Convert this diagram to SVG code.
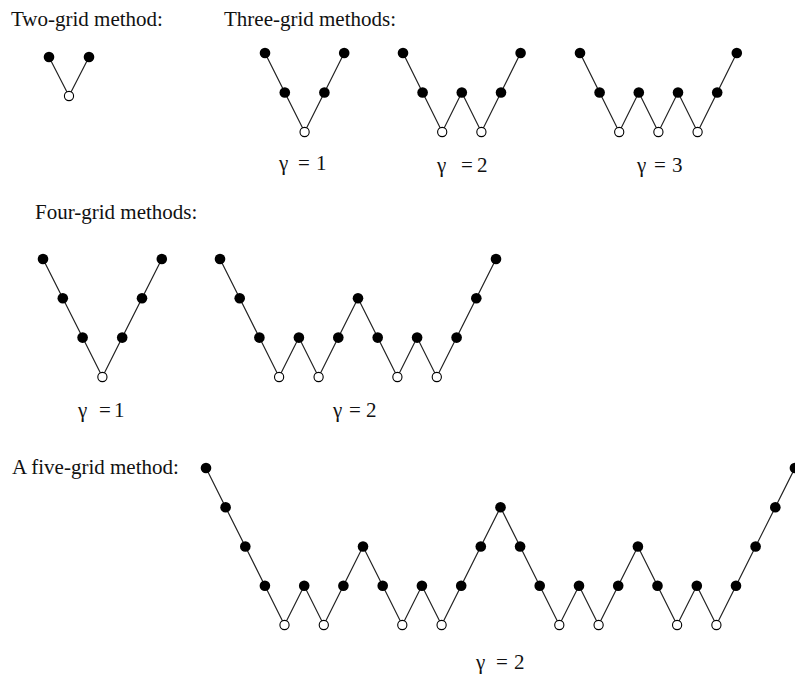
<svg xmlns="http://www.w3.org/2000/svg" width="795" height="677" viewBox="0 0 795 677">
<style>
.t{font-family:"Liberation Serif","Times New Roman",serif;font-size:21px;fill:#111}
.g{font-family:"Liberation Serif","Times New Roman",serif;font-size:21px;fill:#111}
.f{fill:#000}
.o{fill:#fff;stroke:#000;stroke-width:1.1}
.c polyline{fill:none;stroke:#222;stroke-width:1.2}
</style>
<rect width="795" height="677" fill="#fff"/>
<g id="labels">
<text class="t" x="11" y="26">Two-grid method:</text>
<text class="t" x="224" y="26">Three-grid methods:</text>
<text class="t" x="35" y="219">Four-grid methods:</text>
<text class="t" x="12" y="474">A five-grid method:</text>
<text class="g" y="170"><tspan x="279">γ</tspan><tspan x="298">=</tspan><tspan x="316">1</tspan></text>
<text class="g" y="172"><tspan x="437">γ</tspan><tspan x="461">=</tspan><tspan x="477">2</tspan></text>
<text class="g" y="172"><tspan x="637">γ</tspan><tspan x="654">=</tspan><tspan x="672">3</tspan></text>
<text class="g" y="417"><tspan x="78">γ</tspan><tspan x="99">=</tspan><tspan x="114">1</tspan></text>
<text class="g" y="417"><tspan x="333">γ</tspan><tspan x="349">=</tspan><tspan x="366">2</tspan></text>
<text class="g" y="669"><tspan x="476">γ</tspan><tspan x="496">=</tspan><tspan x="514">2</tspan></text>
</g>
<g id="connectors" class="c">
<polyline points="49,57 69,96 89,57"/>
<polyline points="265,53 284.8,92.5 304.6,132 324.4,92.5 344.2,53"/>
<polyline points="403,53 422.6,92.5 442.2,132 461.8,92.5 481.4,132 501,92.5 520.6,53"/>
<polyline points="580,53 599.6,92.5 619.2,132 638.8,92.5 658.4,132 678,92.5 697.6,132 717.2,92.5 736.8,53"/>
<polyline points="43,259 62.8,298.3 82.6,337.6 102.4,377 122.2,337.6 142,298.3 161.8,259"/>
<polyline points="220,259 239.7,298.3 259.4,337.6 279.1,377 298.9,337.6 318.6,377 338.3,337.6 358,298.3 377.7,337.6 397.4,377 417.1,337.6 436.8,377 456.6,337.6 476.3,298.3 496,259"/>
<polyline points="206,468 225.6,507.3 245.3,546.5 264.9,585.8 284.5,625 304.2,585.8 323.8,625 343.4,585.8 363,546.5 382.7,585.8 402.3,625 421.9,585.8 441.6,625 461.2,585.8 480.8,546.5 500.5,507.3 520.1,546.5 539.7,585.8 559.3,625 579,585.8 598.6,625 618.2,585.8 637.9,546.5 657.5,585.8 677.1,625 696.8,585.8 716.4,625 736,585.8 755.6,546.5 775.3,507.3 794.9,468"/>
</g>
<g id="two-grid">
<circle class="f" cx="49" cy="57" r="5.3"/><circle class="o" cx="69" cy="96" r="4.6"/><circle class="f" cx="89" cy="57" r="5.3"/>
</g>
<g id="three-grid-g1">
<circle class="f" cx="265" cy="53" r="5.3"/><circle class="f" cx="284.8" cy="92.5" r="5.3"/><circle class="o" cx="304.6" cy="132" r="4.6"/><circle class="f" cx="324.4" cy="92.5" r="5.3"/><circle class="f" cx="344.2" cy="53" r="5.3"/>
</g>
<g id="three-grid-g2">
<circle class="f" cx="403" cy="53" r="5.3"/><circle class="f" cx="422.6" cy="92.5" r="5.3"/><circle class="o" cx="442.2" cy="132" r="4.6"/><circle class="f" cx="461.8" cy="92.5" r="5.3"/><circle class="o" cx="481.4" cy="132" r="4.6"/><circle class="f" cx="501" cy="92.5" r="5.3"/><circle class="f" cx="520.6" cy="53" r="5.3"/>
</g>
<g id="three-grid-g3">
<circle class="f" cx="580" cy="53" r="5.3"/><circle class="f" cx="599.6" cy="92.5" r="5.3"/><circle class="o" cx="619.2" cy="132" r="4.6"/><circle class="f" cx="638.8" cy="92.5" r="5.3"/><circle class="o" cx="658.4" cy="132" r="4.6"/><circle class="f" cx="678" cy="92.5" r="5.3"/><circle class="o" cx="697.6" cy="132" r="4.6"/><circle class="f" cx="717.2" cy="92.5" r="5.3"/><circle class="f" cx="736.8" cy="53" r="5.3"/>
</g>
<g id="four-grid-g1">
<circle class="f" cx="43" cy="259" r="5.3"/><circle class="f" cx="62.8" cy="298.3" r="5.3"/><circle class="f" cx="82.6" cy="337.6" r="5.3"/><circle class="o" cx="102.4" cy="377" r="4.6"/><circle class="f" cx="122.2" cy="337.6" r="5.3"/><circle class="f" cx="142" cy="298.3" r="5.3"/><circle class="f" cx="161.8" cy="259" r="5.3"/>
</g>
<g id="four-grid-g2">
<circle class="f" cx="220" cy="259" r="5.3"/><circle class="f" cx="239.7" cy="298.3" r="5.3"/><circle class="f" cx="259.4" cy="337.6" r="5.3"/><circle class="o" cx="279.1" cy="377" r="4.6"/><circle class="f" cx="298.9" cy="337.6" r="5.3"/><circle class="o" cx="318.6" cy="377" r="4.6"/><circle class="f" cx="338.3" cy="337.6" r="5.3"/><circle class="f" cx="358" cy="298.3" r="5.3"/><circle class="f" cx="377.7" cy="337.6" r="5.3"/><circle class="o" cx="397.4" cy="377" r="4.6"/><circle class="f" cx="417.1" cy="337.6" r="5.3"/><circle class="o" cx="436.8" cy="377" r="4.6"/><circle class="f" cx="456.6" cy="337.6" r="5.3"/><circle class="f" cx="476.3" cy="298.3" r="5.3"/><circle class="f" cx="496" cy="259" r="5.3"/>
</g>
<g id="five-grid">
<circle class="f" cx="206" cy="468" r="5.3"/><circle class="f" cx="225.6" cy="507.3" r="5.3"/><circle class="f" cx="245.3" cy="546.5" r="5.3"/><circle class="f" cx="264.9" cy="585.8" r="5.3"/><circle class="o" cx="284.5" cy="625" r="4.6"/><circle class="f" cx="304.2" cy="585.8" r="5.3"/><circle class="o" cx="323.8" cy="625" r="4.6"/><circle class="f" cx="343.4" cy="585.8" r="5.3"/><circle class="f" cx="363" cy="546.5" r="5.3"/><circle class="f" cx="382.7" cy="585.8" r="5.3"/><circle class="o" cx="402.3" cy="625" r="4.6"/><circle class="f" cx="421.9" cy="585.8" r="5.3"/><circle class="o" cx="441.6" cy="625" r="4.6"/><circle class="f" cx="461.2" cy="585.8" r="5.3"/><circle class="f" cx="480.8" cy="546.5" r="5.3"/><circle class="f" cx="500.5" cy="507.3" r="5.3"/><circle class="f" cx="520.1" cy="546.5" r="5.3"/><circle class="f" cx="539.7" cy="585.8" r="5.3"/><circle class="o" cx="559.3" cy="625" r="4.6"/><circle class="f" cx="579" cy="585.8" r="5.3"/><circle class="o" cx="598.6" cy="625" r="4.6"/><circle class="f" cx="618.2" cy="585.8" r="5.3"/><circle class="f" cx="637.9" cy="546.5" r="5.3"/><circle class="f" cx="657.5" cy="585.8" r="5.3"/><circle class="o" cx="677.1" cy="625" r="4.6"/><circle class="f" cx="696.8" cy="585.8" r="5.3"/><circle class="o" cx="716.4" cy="625" r="4.6"/><circle class="f" cx="736" cy="585.8" r="5.3"/><circle class="f" cx="755.6" cy="546.5" r="5.3"/><circle class="f" cx="775.3" cy="507.3" r="5.3"/><circle class="f" cx="794.9" cy="468" r="5.3"/>
</g>
</svg>
